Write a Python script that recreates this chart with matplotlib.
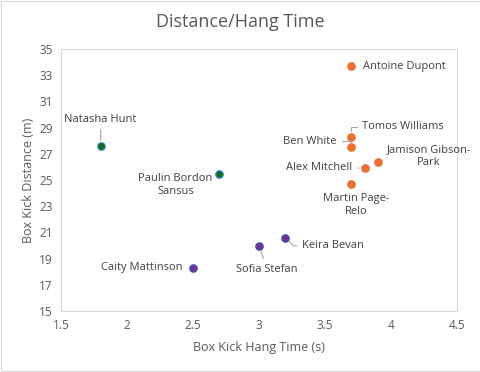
import matplotlib.pyplot as plt

plt.rcParams['font.family'] = ['Open Sans', 'DejaVu Sans']

# data
orange_names = ["Antoine Dupont", "Tomos Williams", "Ben White", "Jamison Gibson-\nPark",
                "Alex Mitchell", "Martin Page-\nRelo"]
orange_hang = [3.7, 3.7, 3.7, 3.9, 3.8, 3.7]
orange_dist = [33.7, 28.3, 27.5, 26.4, 25.9, 24.7]

green_names = ["Natasha Hunt", "Paulin Bordon\nSansus"]
green_hang = [1.8, 2.7]
green_dist = [27.6, 25.5]

purple_names = ["Keira Bevan", "Sofia Stefan", "Caity Mattinson"]
purple_hang = [3.2, 3.0, 2.5]
purple_dist = [20.6, 20.0, 18.3]

x_ticks = [1.5, 2, 2.5, 3, 3.5, 4, 4.5]
y_ticks = [15, 17, 19, 21, 23, 25, 27, 29, 31, 33, 35]

grey = "#595959"

fig = plt.figure(figsize=(4.81, 3.72), dpi=100)
ax = fig.add_axes([0.127, 0.164, 0.823, 0.704])

ax.scatter(orange_hang, orange_dist, s=28, color="#E97132", edgecolor="#E97132", zorder=3)
ax.scatter(green_hang, green_dist, s=28, color="#196B24", edgecolor="#1F7FA8", linewidth=0.9, zorder=3)
ax.scatter(purple_hang, purple_dist, s=28, color="#7A2E9E", edgecolor="#3B55A5", linewidth=0.9, zorder=3)

# label offsets in pixels: (dx, dy, ha, leader line style)
offsets = {
    "Antoine Dupont": (12, 0, "left", None),
    "Tomos Williams": (11, 10, "left", "angle,angleA=0,angleB=90,rad=0"),
    "Ben White": (-15, 6, "right", "angle,angleA=0,angleB=90,rad=0"),
    "Jamison Gibson-\nPark": (51, 6, "center", None),
    "Alex Mitchell": (-12, 1, "right", "arc3"),
    "Martin Page-\nRelo": (5, -21, "center", None),
    "Natasha Hunt": (0, 27, "center", "arc3"),
    "Paulin Bordon\nSansus": (-44, -11, "center", None),
    "Keira Bevan": (17, -8, "left", "angle,angleA=0,angleB=135,rad=0"),
    "Sofia Stefan": (8, -24, "center", "arc3"),
    "Caity Mattinson": (-11, 0, "right", None),
}

names = orange_names + green_names + purple_names
xs = orange_hang + green_hang + purple_hang
ys = orange_dist + green_dist + purple_dist
for name, x, y in zip(names, xs, ys):
    dx, dy, ha, conn = offsets[name]
    arrow = None
    if conn:
        arrow = dict(arrowstyle="-", color="#A6A6A6", lw=0.8, shrinkA=2, shrinkB=4,
                     connectionstyle=conn)
    ax.annotate(name, (x, y), xytext=(dx, dy), textcoords="offset pixels",
                ha=ha, va="center", fontsize=8, color="#404040",
                multialignment="center", linespacing=1.25, arrowprops=arrow)

ax.set_xlim(1.5, 4.5)
ax.set_ylim(15, 35)
ax.set_xticks(x_ticks)
ax.set_xticklabels(["1.5", "2", "2.5", "3", "3.5", "4", "4.5"])
ax.set_yticks(y_ticks)
ax.tick_params(length=0, labelsize=8.5, labelcolor=grey, pad=6)
for s in ax.spines.values():
    s.set_color("#D9D9D9")
    s.set_linewidth(0.8)

fig.suptitle("Distance/Hang Time", fontsize=13, color=grey, x=0.5, y=0.94, va="center")
ax.set_xlabel("Box Kick Hang Time (s)", fontsize=9, color=grey, labelpad=6)
ax.set_ylabel("Box Kick Distance (m)", fontsize=9, color=grey, labelpad=3)

fig.patches.append(plt.Rectangle((0.002, 0.003), 0.996, 0.994, transform=fig.transFigure,
                                 fill=False, edgecolor="#D9D9D9", lw=0.8))

fig.savefig("out.png", dpi=100)
